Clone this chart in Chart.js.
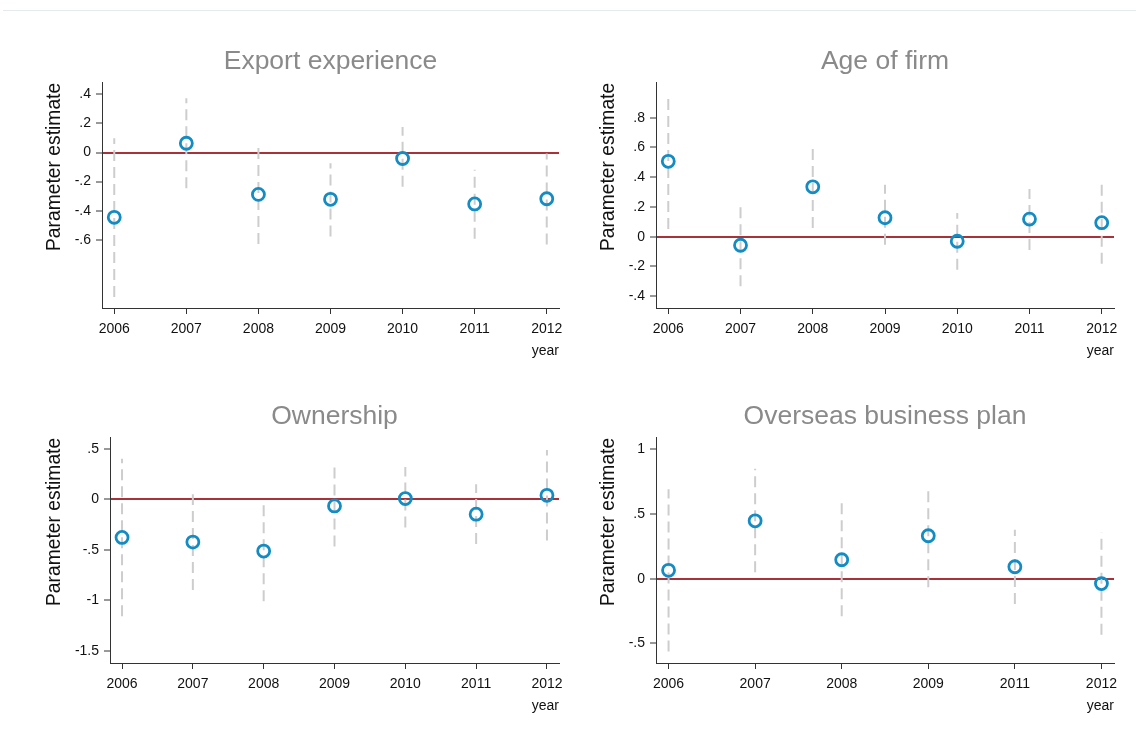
<!DOCTYPE html>
<html>
<head>
<meta charset="utf-8">
<title>Parameter estimates by year</title>
<script src="https://cdn.jsdelivr.net/npm/chart.js@4.4.1/dist/chart.umd.min.js"></script>
<style>
  html, body { margin: 0; padding: 0; background: #fff; }
  body { width: 1136px; height: 747px; position: relative; overflow: hidden; }
  .rule { position: absolute; left: 3px; right: 0; top: 10px; border-top: 1px solid #e6eaea; }
  canvas { position: absolute; }
</style>
</head>
<body>
<div class="rule"></div>
<canvas id="export" width="545" height="330" style="left:30px;top:35px"></canvas>
<canvas id="age" width="545" height="330" style="left:584px;top:35px"></canvas>
<canvas id="owner" width="545" height="330" style="left:30px;top:390px"></canvas>
<canvas id="plan" width="545" height="330" style="left:584px;top:390px"></canvas>
<script>
// years on the x axis (the business plan panel has no 2010)
const years = ['2006', '2007', '2008', '2009', '2010', '2011', '2012'];
const planYears = ['2006', '2007', '2008', '2009', '2011', '2012'];

// export experience: point estimate and 95% interval
const exportEst = [-0.446, 0.064, -0.288, -0.322, -0.041, -0.354, -0.318];
const exportLo  = [-0.994, -0.245, -0.629, -0.578, -0.235, -0.594, -0.633];
const exportHi  = [0.098, 0.373, 0.053, -0.073, 0.176, -0.119, -0.007];
const exportTicks = [-0.6, -0.4, -0.2, 0, 0.2, 0.4];

// age of firm
const ageEst = [0.507, -0.058, 0.335, 0.127, -0.031, 0.118, 0.094];
const ageLo  = [0.051, -0.333, 0.058, -0.054, -0.223, -0.089, -0.183];
const ageHi  = [0.961, 0.223, 0.615, 0.349, 0.159, 0.320, 0.364];
const ageTicks = [-0.4, -0.2, 0, 0.2, 0.4, 0.6, 0.8];

// ownership
const ownEst = [-0.378, -0.424, -0.513, -0.066, 0.007, -0.148, 0.039];
const ownLo  = [-1.158, -0.898, -1.010, -0.467, -0.280, -0.444, -0.408];
const ownHi  = [0.401, 0.049, -0.026, 0.329, 0.319, 0.148, 0.487];
const ownTicks = [-1.5, -1, -0.5, 0, 0.5];

// overseas business plan
const planEst = [0.064, 0.446, 0.146, 0.331, 0.092, -0.038];
const planLo  = [-0.562, 0.049, -0.290, -0.067, -0.195, -0.433];
const planHi  = [0.690, 0.849, 0.582, 0.721, 0.377, 0.356];
const planTicks = [-0.5, 0, 0.5, 1];

const BLUE = '#138cc4';
const RED = '#a8323a';
const AXIS = '#333';
Chart.defaults.font.family = '"Liberation Sans", Arial, Helvetica, sans-serif';

// Stata-style labels: .4, -.2, 0, -1.5
const fmt = v => v === 0 ? '0' : String(v).replace(/^(-?)0\./, '$1.');

function panel(id, opts) {
  const n = opts.labels.length;
  const points = opts.est.map((v, i) => ({ x: i, y: v }));
  // each interval is a two-point segment, separated by gaps
  const bars = [];
  opts.lo.forEach((lo, i) => {
    bars.push({ x: i, y: lo }, { x: i, y: opts.hi[i] }, { x: i, y: null });
  });

  return new Chart(document.getElementById(id), {
    type: 'scatter',
    data: {
      datasets: [
        {
          data: points,
          pointRadius: 6,
          pointBorderWidth: 2.8,
          borderColor: BLUE,
          backgroundColor: 'transparent',
          order: 0
        },
        {
          type: 'line',
          data: bars,
          borderColor: '#cdcdcd',
          borderWidth: 2,
          borderDash: [11, 6],
          pointRadius: 0,
          fill: false,
          spanGaps: false,
          order: 1
        }
      ]
    },
    options: {
      responsive: false,
      devicePixelRatio: 1,
      animation: false,
      events: [],
      layout: { padding: { left: 0, right: opts.padRight, top: 0, bottom: 5 } },
      plugins: {
        legend: { display: false },
        tooltip: { enabled: false },
        title: {
          display: true,
          text: opts.title,
          fullSize: false,
          color: '#8a8a8a',
          font: { size: 26.5, weight: 'normal' },
          padding: { top: 11, bottom: 5 }
        }
      },
      scales: {
        x: {
          type: 'linear',
          min: -opts.xPad,
          max: n - 1 + opts.xPad,
          afterBuildTicks: s => { s.ticks = opts.labels.map((_, i) => ({ value: i })); },
          afterFit: s => { s.height = 52; },
          ticks: {
            callback: v => opts.labels[v],
            autoSkip: false,
            maxRotation: 0,
            color: '#111',
            font: { size: 14 },
            padding: 7
          },
          grid: { drawOnChartArea: false, tickColor: AXIS, tickLength: 6, tickWidth: 1 },
          border: { color: AXIS, width: 1 },
          title: {
            display: true,
            text: 'year',
            align: 'end',
            color: '#111',
            font: { size: 14 },
            padding: { top: 0, bottom: 0 }
          }
        },
        y: {
          min: opts.yMin,
          max: opts.yMax,
          afterBuildTicks: s => { s.ticks = opts.ticks.map(v => ({ value: v })); },
          afterFit: s => { s.width = opts.yWidth; },
          ticks: { callback: fmt, color: '#111', font: { size: 14 }, padding: 5 },
          grid: {
            color: c => (c.tick && c.tick.value === 0) ? RED : 'transparent',
            lineWidth: 2,
            tickColor: AXIS,
            tickLength: 6,
            tickWidth: 1
          },
          border: { color: AXIS, width: 1 },
          title: {
            display: true,
            text: 'Parameter estimate',
            align: 'end',
            color: '#111',
            font: { size: 19.3 },
            padding: { top: 13, bottom: 0 }
          }
        }
      }
    }
  });
}

panel('export', {
  title: 'Export experience', labels: years,
  est: exportEst, lo: exportLo, hi: exportHi, ticks: exportTicks,
  yMin: -1.07, yMax: 0.48, xPad: 0.17, yWidth: 72, padRight: 16
});
panel('age', {
  title: 'Age of firm', labels: years,
  est: ageEst, lo: ageLo, hi: ageHi, ticks: ageTicks,
  yMin: -0.48, yMax: 1.035, xPad: 0.17, yWidth: 72, padRight: 15
});
panel('owner', {
  title: 'Ownership', labels: years,
  est: ownEst, lo: ownLo, hi: ownHi, ticks: ownTicks,
  yMin: -1.622, yMax: 0.609, xPad: 0.17, yWidth: 80, padRight: 16
});
panel('plan', {
  title: 'Overseas business plan', labels: planYears,
  est: planEst, lo: planLo, hi: planHi, ticks: planTicks,
  yMin: -0.651, yMax: 1.087, xPad: 0.145, yWidth: 72, padRight: 15
});
</script>
</body>
</html>
